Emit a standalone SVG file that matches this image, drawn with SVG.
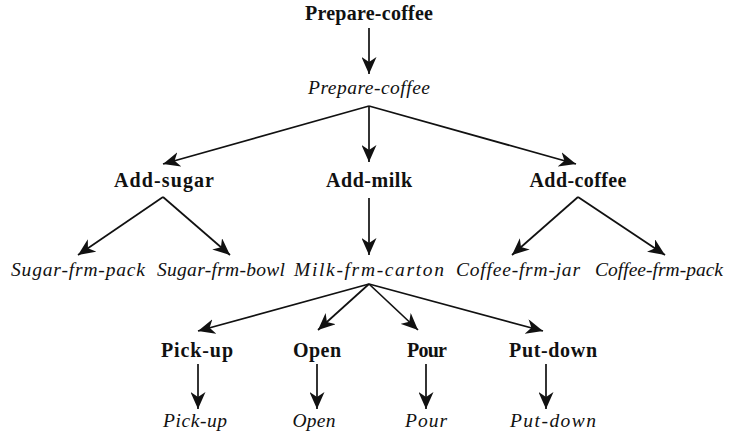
<svg xmlns="http://www.w3.org/2000/svg" width="733" height="438" viewBox="0 0 733 438">
<style>
.b{font-family:"Liberation Serif","Times New Roman",serif;font-weight:bold;font-size:20px;fill:#111;text-anchor:middle}
.i{font-family:"Liberation Serif","Times New Roman",serif;font-style:italic;font-size:19.5px;fill:#111;text-anchor:middle}
.c line{stroke:#111;stroke-width:1.7;marker-end:url(#ah)}
</style>
<defs>
<marker id="ah" viewBox="0 0 17 15" refX="17" refY="7.5" markerWidth="17" markerHeight="15" markerUnits="userSpaceOnUse" orient="auto">
<path d="M0,0 L17,7.5 L0,15 L5,7.5 z" fill="#111"/>
</marker>
</defs>
<rect width="733" height="438" fill="#fff"/>
<g class="c" id="connectors">
<line x1="369" y1="28" x2="369" y2="74"/>
<line x1="369" y1="106" x2="163" y2="164"/>
<line x1="369" y1="106" x2="369" y2="162"/>
<line x1="369" y1="106" x2="576" y2="164"/>
<line x1="163" y1="197" x2="78" y2="255"/>
<line x1="163" y1="197" x2="230" y2="255"/>
<line x1="369" y1="198" x2="369" y2="255"/>
<line x1="578" y1="197" x2="512" y2="255"/>
<line x1="578" y1="197" x2="665" y2="255"/>
<line x1="369" y1="284" x2="198" y2="331"/>
<line x1="369" y1="284" x2="318" y2="330"/>
<line x1="369" y1="284" x2="418" y2="330"/>
<line x1="369" y1="284" x2="543" y2="331"/>
<line x1="198" y1="364" x2="198" y2="409"/>
<line x1="317" y1="364" x2="317" y2="409"/>
<line x1="426" y1="364" x2="426" y2="409"/>
<line x1="546" y1="364" x2="546" y2="409"/>
</g>
<g id="n-goal"><text class="b" x="369" y="20" textLength="128" lengthAdjust="spacing">Prepare-coffee</text></g>
<g id="n-method"><text class="i" x="369" y="94" textLength="122" lengthAdjust="spacing">Prepare-coffee</text></g>
<g id="n-add-sugar"><text class="b" x="164" y="187" textLength="100" lengthAdjust="spacing">Add-sugar</text></g>
<g id="n-add-milk"><text class="b" x="369" y="187" textLength="86" lengthAdjust="spacing">Add-milk</text></g>
<g id="n-add-coffee"><text class="b" x="578" y="187" textLength="97" lengthAdjust="spacing">Add-coffee</text></g>
<g id="n-sugar-pack"><text class="i" x="78" y="276" textLength="134" lengthAdjust="spacing">Sugar-frm-pack</text></g>
<g id="n-sugar-bowl"><text class="i" x="221" y="276" textLength="128" lengthAdjust="spacing">Sugar-frm-bowl</text></g>
<g id="n-milk-carton"><text class="i" x="369" y="276" textLength="150" lengthAdjust="spacing">Milk-frm-carton</text></g>
<g id="n-coffee-jar"><text class="i" x="518" y="276" textLength="124" lengthAdjust="spacing">Coffee-frm-jar</text></g>
<g id="n-coffee-pack"><text class="i" x="659" y="276" textLength="128" lengthAdjust="spacing">Coffee-frm-pack</text></g>
<g id="n-pickup"><text class="b" x="197" y="357" textLength="72" lengthAdjust="spacing">Pick-up</text></g>
<g id="n-open"><text class="b" x="317" y="357" textLength="48" lengthAdjust="spacing">Open</text></g>
<g id="n-pour"><text class="b" x="427" y="357" textLength="40" lengthAdjust="spacing">Pour</text></g>
<g id="n-putdown"><text class="b" x="553" y="357" textLength="88" lengthAdjust="spacing">Put-down</text></g>
<g id="n-pickup-op"><text class="i" x="195" y="427" textLength="64" lengthAdjust="spacing">Pick-up</text></g>
<g id="n-open-op"><text class="i" x="314" y="427" textLength="43" lengthAdjust="spacing">Open</text></g>
<g id="n-pour-op"><text class="i" x="426" y="427" textLength="42" lengthAdjust="spacing">Pour</text></g>
<g id="n-putdown-op"><text class="i" x="553" y="427" textLength="86" lengthAdjust="spacing">Put-down</text></g>
</svg>
